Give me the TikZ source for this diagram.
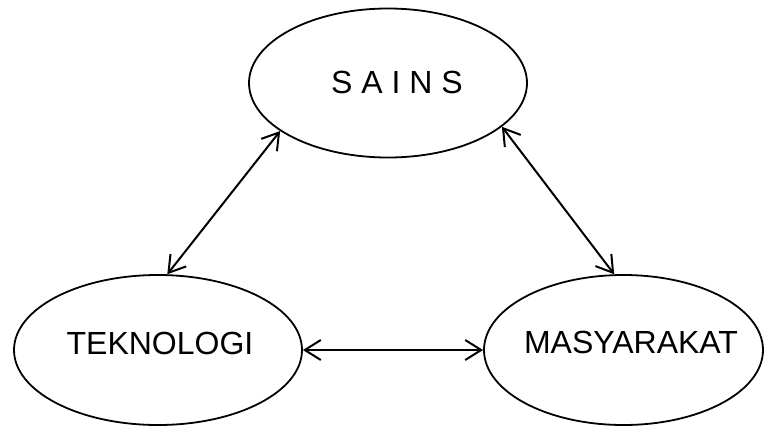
\documentclass[tikz,border=0pt]{standalone}
\usepackage{fontspec}
\setmainfont{Liberation Sans}
\usepackage{tikz}
\usetikzlibrary{shapes.geometric}
\usetikzlibrary{arrows.meta,positioning}
\tikzset{link/.style={{Straight Barb[length=16pt,width=20pt]}-{Straight Barb[length=16pt,width=20pt]},line width=2pt}}

\begin{document}
\begin{tikzpicture}[x=1pt,y=-1pt]%
        \useasboundingbox (0,0) rectangle (764,426);%%
        \begin{scope}[shape=ellipse,inner sep=0pt,line width=1.8pt]
        \tikzstyle{every node}=[draw] %%
        \node[minimum width=278pt,minimum height=149pt] (sains) at (388,83)  {}; %%
        \node[minimum width=288pt,minimum height=150pt] (tek) at (158,350)  {}; %%
        \node[minimum width=279pt,minimum height=150pt] (mas) at (623.5,350)  {}; %%
        \end{scope}
        \begin{scope}[inner sep=0pt]
        \tikzstyle{every node}=[anchor=base,font=\fontsize{32}{36}\selectfont] %%
        \node (sainst) at (397,93.3)  {S A I N S}; %%
        \node (tekt) at (160,354)  {TEKNOLOGI}; %%
        \node (mast) at (631,353.3)  {MASYARAKAT}; %%
        \end{scope}
        \draw[link] (sains.204)--(tek.83);  %%
        \draw[link] (sains.339)--(mas.97.5);  %%
        \draw[link] (tek.east)--(mas.west);  %%
        \end{tikzpicture}
\end{document}
